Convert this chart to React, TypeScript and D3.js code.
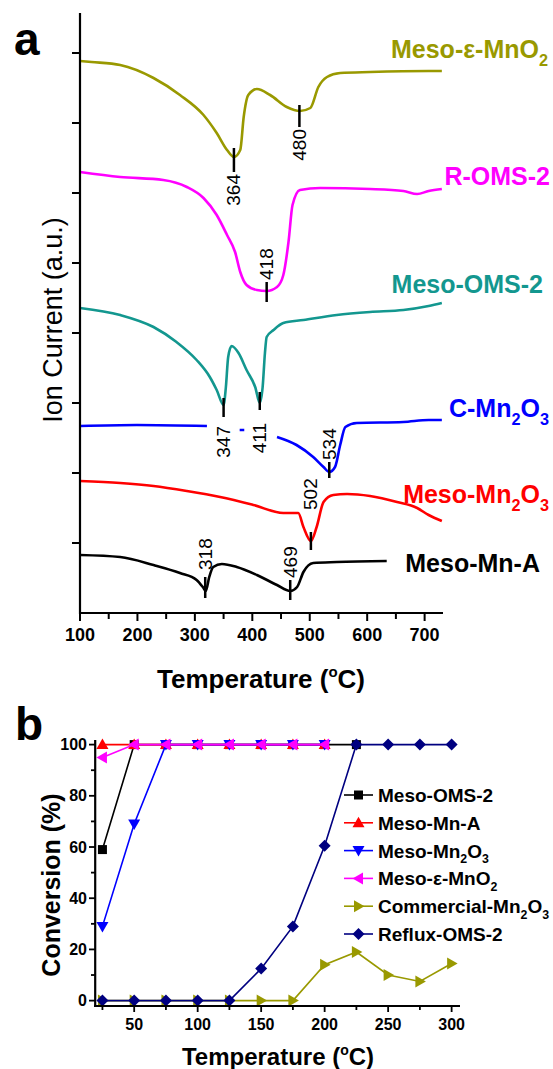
import * as d3 from 'd3'

const FONT = '"Liberation Sans", Arial, Helvetica, sans-serif'

// ---- panel a: ion current traces, [temperature (°C), signal (a.u.)] ----
const mesoEpsMnO2: [number, number][] = [
  [100, 552], [120, 551], [170, 548], [228, 535], [274, 518], [315, 498], [338, 480], [356, 463],
  [368, 456], [379, 463], [385, 496], [393, 518], [408, 524], [431, 518], [460, 506], [483, 502],
  [501, 505], [515, 526], [530, 536], [553, 540], [605, 541], [707, 542], [730, 542],
]
const rOMS2: [number, number][] = [
  [100, 441], [170, 436], [245, 433], [286, 426], [315, 415], [338, 398], [356, 378], [370, 361],
  [379, 341], [390, 328], [408, 323], [425, 322], [443, 326], [454, 338], [463, 371], [470, 408],
  [483, 423], [518, 425], [605, 424], [663, 422], [687, 419], [707, 422], [730, 424],
]
const mesoOMS2Ion: [number, number][] = [
  [100, 305], [170, 298], [228, 286], [268, 271], [303, 253], [326, 236], [338, 223], [350, 208],
  [354, 226], [358, 256], [364, 267], [376, 260], [390, 243], [405, 226], [413, 210], [418, 226],
  [422, 260], [425, 276], [437, 283], [454, 290], [489, 293], [547, 298], [605, 301], [663, 303],
  [707, 307], [730, 310],
]
// null = break in the trace (where the peak labels sit)
const cMn2O3: ([number, number] | null)[] = [
  [100, 187], [199, 188], [321, 187], null, [378, 183], [386, 183], null,
  [443, 176], [477, 168], [506, 156], [524, 146], [534, 141], [544, 146], [553, 168], [562, 186],
  [582, 190], [663, 191], [707, 193], [730, 193],
]
const mesoMn2O3Ion: [number, number][] = [
  [100, 132], [170, 130], [228, 127], [286, 122], [344, 116], [402, 108], [454, 100], [480, 100],
  [489, 86], [502, 72], [512, 86], [524, 111], [541, 118], [565, 119], [605, 117], [652, 111],
  [687, 105], [707, 98], [730, 92],
]
const mesoMnAIon: [number, number][] = [
  [100, 58], [170, 56], [228, 48], [274, 40], [303, 33], [315, 25], [319, 22], [325, 36], [332, 46],
  [347, 49], [373, 46], [408, 38], [443, 28], [466, 22], [478, 26], [489, 41], [506, 50], [547, 51],
  [634, 52],
]

const ionNames = ['Meso-ε-MnO2', 'R-OMS-2', 'Meso-OMS-2', 'C-Mn2O3', 'Meso-Mn2O3', 'Meso-Mn-A']
const ionTraces = [mesoEpsMnO2, rOMS2, mesoOMS2Ion, cMn2O3, mesoMn2O3Ion, mesoMnAIon]
const ionColors = ['#999900', '#ff00ff', '#13978f', '#0000ff', '#ff0000', '#000000']

// peak markers
const peakLabels = ['364', '480', '418', '347', '411', '534', '502', '318', '469']
const peakTemps = [368, 482, 425, 350, 413, 534, 502, 318, 466]
const peakTickFrom = [441, 486, 311, 196, 203, 135, 63, 15, 13]
const peakTickTo = [465, 508, 331, 215, 221, 151, 81, 36, 33]
const peakLabelAt = [439, 484, 333, 187, 190, 153, 103, 43, 35]
const peakLabelBelow = [true, true, false, true, true, false, false, false, false]

const ionXTicks = [100, 200, 300, 400, 500, 600, 700]

// ---- panel b: conversion (%) vs temperature (°C) ----
const convTemps = [25, 50, 75, 100, 125, 150, 175, 200, 225, 250, 275, 300]
const convMesoOMS2 = [59, 100, 100, 100, 100, 100, 100, 100, 100]
const convMesoMnA = [100, 100, 100, 100, 100, 100, 100, 100]
const convMesoMn2O3 = [29, 69, 100, 100, 100, 100, 100, 100]
const convMesoEps = [95, 100, 100, 100, 100, 100, 100, 100]
const convCommercial = [0, 0, 0, 0, 0, 0, 0, 14, 19, 10, 7.5, 14.5]
const convReflux = [0, 0, 0, 0, 0, 12.5, 29, 60.5, 100, 100, 100, 100]

const convNames = ['Meso-OMS-2', 'Meso-Mn-A', 'Meso-Mn2O3', 'Meso-ε-MnO2', 'Commercial-Mn2O3', 'Reflux-OMS-2']
const convValues = [convMesoOMS2, convMesoMnA, convMesoMn2O3, convMesoEps, convCommercial, convReflux]
const convColors = ['#000000', '#ff0000', '#0000ff', '#ff00ff', '#999900', '#000080']
const convMarkers = ['square', 'up', 'down', 'left', 'right', 'diamond']

const convYTicks = [0, 20, 40, 60, 80, 100]
const convXTicks = [50, 100, 150, 200, 250, 300]

// layout for the series names in panel a: [right edge x, baseline y]
const ionLabelPos = [[548, 58], [550, 185], [543, 293], [549, 417], [549, 503], [540, 572]]

function Chem({ text, fs }: { text: string; fs: number }) {
  const segs = text.split(/(?<=[A-Za-z])(\d)/)
  return (
    <>
      {segs.map((s, i) =>
        i % 2 ? (
          <tspan key={i} dy={fs * 0.3} fontSize={fs * 0.65}>{s}</tspan>
        ) : (
          <tspan key={i} dy={i > 0 ? -fs * 0.3 : 0}>{s}</tspan>
        )
      )}
    </>
  )
}

function markerPath(kind: string) {
  const r = 6
  switch (kind) {
    case 'square': return 'M-4.5,-4.5h9v9h-9Z'
    case 'up': return `M0,${-r}L${r},${r * 0.75}L${-r},${r * 0.75}Z`
    case 'down': return `M0,${r}L${r},${-r * 0.75}L${-r},${-r * 0.75}Z`
    case 'left': return `M${-r},0L${r * 0.75},${-r}L${r * 0.75},${r}Z`
    case 'right': return `M${r},0L${-r * 0.75},${-r}L${-r * 0.75},${r}Z`
    default: return `M0,${-r}L${r},0L0,${r}L${-r},0Z`
  }
}

export default function App() {
  const W = 553, H = 1069

  // panel a scales
  const xA = d3.scaleLinear().domain([100, 732]).range([80, 443])
  const yA = d3.scaleLinear().domain([0, 600]).range([613, 13])
  const ionLine = d3.line<[number, number] | null>()
    .defined(d => d != null)
    .x(d => xA(d![0]))
    .y(d => yA(d![1]))
    .curve(d3.curveMonotoneX)
  const ionYTicks = d3.range(70, 600, 70)
  const ionXMinor = d3.range(100, 733, 50)

  // panel b scales
  const xB = d3.scaleLinear().domain([19.3, 306.6]).range([95.2, 460])
  const yB = d3.scaleLinear().domain([-2.1, 101.8]).range([1006, 740])
  const convLine = d3.line<number>()
    .x((_, i) => xB(convTemps[i]))
    .y(d => yB(d))

  return (
    <svg width={W} height={H} style={{ position: 'absolute', left: 0, top: 0, background: '#fff' }}
      fontFamily={FONT}>
      <rect width={W} height={H} fill="#fff" />

      {/* ---------- panel a ---------- */}
      <text x={14} y={55} fontSize={46} fontWeight="bold">a</text>

      {ionTraces.map((tr, i) => (
        <path key={i} d={ionLine(tr as any) || ''} fill="none" stroke={ionColors[i]}
          strokeWidth={2.6} strokeLinejoin="round" />
      ))}

      {peakLabels.map((lab, i) => (
        <g key={lab}>
          <line x1={xA(peakTemps[i])} x2={xA(peakTemps[i])} y1={yA(peakTickFrom[i])} y2={yA(peakTickTo[i])}
            stroke="#000" strokeWidth={2.5} />
          <text transform={`translate(${xA(peakTemps[i])},${yA(peakLabelAt[i])}) rotate(-90)`}
            textAnchor={peakLabelBelow[i] ? 'end' : 'start'} dominantBaseline="central" fontSize={19}>
            {lab}
          </text>
        </g>
      ))}

      {ionNames.map((n, i) => (
        <text key={n} x={ionLabelPos[i][0]} y={ionLabelPos[i][1]} textAnchor="end" fontSize={25}
          fontWeight="bold" fill={ionColors[i]}>
          <Chem text={n} fs={25} />
        </text>
      ))}

      {/* axes */}
      <line x1={80} x2={80} y1={13} y2={614} stroke="#000" strokeWidth={2.2} />
      <line x1={79} x2={443} y1={613} y2={613} stroke="#000" strokeWidth={2.2} />
      {ionYTicks.map(t => (
        <line key={t} x1={72} x2={80} y1={yA(t)} y2={yA(t)} stroke="#000" strokeWidth={2} />
      ))}
      {ionXMinor.map(t => (
        <line key={t} x1={xA(t)} x2={xA(t)} y1={613} y2={t % 100 === 0 ? 621 : 619} stroke="#000" strokeWidth={2} />
      ))}
      {ionXTicks.map(t => (
        <text key={t} x={xA(t)} y={641} textAnchor="middle" fontSize={18} fontWeight="bold">{t}</text>
      ))}
      <text x={261} y={688} textAnchor="middle" fontSize={26} fontWeight="bold">
        Temperature (<tspan dy={-11} fontSize={15}>o</tspan><tspan dy={11}>C)</tspan>
      </text>
      <text transform="translate(53,320) rotate(-90)" textAnchor="middle" dominantBaseline="central" fontSize={27}>
        Ion Current (a.u.)
      </text>

      {/* ---------- panel b ---------- */}
      <text x={15} y={740} fontSize={46} fontWeight="bold">b</text>

      {convValues.map((vals, i) => (
        <g key={convNames[i]}>
          <path d={convLine(vals) || ''} fill="none" stroke={convColors[i]} strokeWidth={1.6} />
          {vals.map((v, j) => (
            <path key={j} d={markerPath(convMarkers[i])}
              transform={`translate(${xB(convTemps[j])},${yB(v)})`} fill={convColors[i]} />
          ))}
        </g>
      ))}

      {/* axes */}
      <line x1={95.2} x2={95.2} y1={740} y2={1007} stroke="#000" strokeWidth={2.2} />
      <line x1={94} x2={460} y1={1006} y2={1006} stroke="#000" strokeWidth={2.2} />
      {d3.range(0, 101, 10).map(t => (
        <line key={t} x1={t % 20 === 0 ? 89 : 91} x2={95.2} y1={yB(t)} y2={yB(t)} stroke="#000" strokeWidth={1.8} />
      ))}
      {convYTicks.map(t => (
        <text key={t} x={87} y={yB(t)} dy={5.5} textAnchor="end" fontSize={16} fontWeight="bold">{t}</text>
      ))}
      {d3.range(25, 301, 25).map(t => (
        <line key={t} x1={xB(t)} x2={xB(t)} y1={1006} y2={t % 50 === 0 ? 1012 : 1010} stroke="#000" strokeWidth={1.8} />
      ))}
      {convXTicks.map(t => (
        <text key={t} x={xB(t)} y={1030} textAnchor="middle" fontSize={16} fontWeight="bold">{t}</text>
      ))}
      <text x={278} y={1065} textAnchor="middle" fontSize={24} fontWeight="bold">
        Temperature (<tspan dy={-10} fontSize={14}>o</tspan><tspan dy={10}>C)</tspan>
      </text>
      <text transform="translate(51,885) rotate(-90)" textAnchor="middle" dominantBaseline="central"
        fontSize={25} fontWeight="bold">
        Conversion (%)
      </text>

      {/* legend */}
      {convNames.map((n, i) => {
        const y = 795 + i * 27.8
        return (
          <g key={n}>
            <line x1={344} x2={373} y1={y} y2={y} stroke={convColors[i]} strokeWidth={1.6} />
            <path d={markerPath(convMarkers[i])} transform={`translate(358.5,${y})`} fill={convColors[i]} />
            <text x={378} y={y + 7} fontSize={19} fontWeight="bold">
              <Chem text={n} fs={19} />
            </text>
          </g>
        )
      })}
    </svg>
  )
}
